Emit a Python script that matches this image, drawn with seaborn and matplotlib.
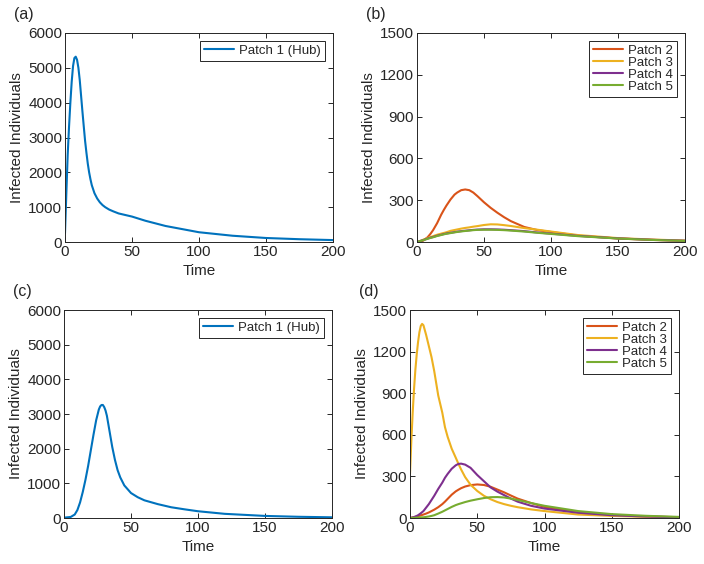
import numpy as np
import pandas as pd
import matplotlib
matplotlib.use("Agg")
import matplotlib.pyplot as plt
import seaborn as sns

# ---------------- data ----------------
t_a = [0, 1, 2, 3, 4, 5, 6, 7, 8, 9, 10, 11, 12, 13, 14, 15, 16, 17, 18, 19, 20,
       22, 24, 26, 28, 30, 33, 36, 40, 45, 50, 60, 75, 100, 125, 150, 175, 200]
hub_a = [250, 1400, 2500, 3300, 4000, 4600, 5050, 5280, 5320, 5230, 5000, 4650, 4200,
         3750, 3320, 2900, 2560, 2250, 2000, 1800, 1630, 1400, 1250, 1140, 1060, 1000,
         930, 880, 820, 775, 730, 610, 460, 280, 180, 115, 80, 55]

t_b = [0, 3, 5, 8, 10, 12, 15, 18, 20, 22, 25, 28, 30, 33, 36, 39, 42, 45, 50, 55, 60,
       65, 70, 80, 90, 100, 120, 150, 175, 200]
p2_b = [0, 2, 12, 35, 58, 85, 135, 195, 230, 262, 305, 340, 355, 372, 377, 372, 355, 330,
        285, 245, 210, 178, 150, 108, 85, 72, 46, 25, 15, 8]
p3_b = [0, 10, 18, 29, 35, 42, 52, 60, 65, 70, 80, 86, 90, 96, 101, 105, 110, 114, 122,
        127, 126, 121, 115, 100, 88, 75, 50, 28, 18, 10]
p4_b = [0, 9, 15, 25, 31, 36, 45, 52, 57, 61, 66, 71, 74, 78, 81, 84, 87, 89, 91, 91, 90,
        88, 85, 78, 68, 60, 44, 26, 16, 9]
p5_b = [0, 8, 14, 23, 29, 34, 43, 50, 55, 59, 64, 69, 72, 76, 79, 82, 85, 87, 88, 88, 87,
        85, 82, 75, 66, 58, 42, 25, 15, 8]

t_c = [0, 5, 8, 10, 12, 14, 16, 18, 20, 22, 24, 26, 27, 28, 29, 30, 31, 32, 34, 36, 38,
       40, 42, 45, 50, 55, 60, 70, 80, 90, 100, 120, 150, 175, 200]
hub_c = [10, 30, 100, 230, 450, 750, 1100, 1500, 1950, 2400, 2820, 3130, 3220, 3260, 3260,
         3200, 3100, 2950, 2500, 2050, 1680, 1380, 1170, 940, 720, 600, 510, 400, 310, 250,
         195, 120, 60, 35, 20]

t_d = [0, 1, 2, 3, 4, 5, 6, 7, 8, 9, 10, 12, 14, 16, 18, 21, 24, 26, 28, 31, 34, 36, 38,
       41, 45, 50, 55, 60, 65, 70, 75, 80, 90, 100, 125, 150, 175, 200]
p3_d = [320, 560, 760, 930, 1070, 1180, 1270, 1340, 1385, 1400, 1390, 1320, 1240, 1160,
        1060, 883, 760, 655, 585, 500, 435, 391, 350, 295, 240, 195, 160, 135, 115, 100,
        88, 78, 62, 50, 25, 15, 9, 5]
p2_d = [0, 2, 4, 6, 8, 10, 13, 16, 19, 22, 25, 32, 40, 50, 60, 78, 100, 118, 138, 168,
        192, 204, 215, 227, 237, 242, 238, 225, 205, 185, 162, 140, 108, 80, 40, 20, 11, 6]
p4_d = [0, 2, 4, 7, 11, 15, 20, 27, 34, 42, 50, 75, 100, 130, 160, 210, 255, 290, 318,
        355, 380, 390, 392, 385, 362, 310, 265, 220, 190, 165, 140, 118, 88, 68, 38, 20, 11, 5]
p5_d = [0, 0, 1, 1, 2, 3, 3, 4, 4, 5, 5, 8, 11, 15, 20, 32, 45, 55, 65, 80, 93, 100, 106,
        115, 125, 135, 144, 150, 151, 148, 140, 130, 108, 88, 50, 28, 16, 8]

# ---------------- style ----------------
sns.set_theme(style="ticks")
plt.rcParams["font.family"] = ["Liberation Sans", "DejaVu Sans"]
plt.rcParams.update({
    "axes.edgecolor": "#262626",
    "axes.linewidth": 0.7,
    "xtick.color": "#262626",
    "ytick.color": "#262626",
    "xtick.direction": "in",
    "ytick.direction": "in",
    "xtick.major.size": 3.5,
    "ytick.major.size": 3.5,
    "xtick.major.width": 0.7,
    "ytick.major.width": 0.7,
    "xtick.top": True,
    "ytick.right": True,
})

BLUE = "#0072BD"
RED = "#D95319"
YEL = "#EDB120"
PUR = "#7E2F8E"
GRN = "#77AC30"

fig = plt.figure(figsize=(7.04, 5.64), dpi=100)
W, H = 704.0, 564.0


def make_ax(l, r, t, b):
    return fig.add_axes([l / W, 1 - b / H, (r - l) / W, (b - t) / H])


ax_a = make_ax(65, 333, 33, 242)
ax_b = make_ax(417, 685, 33, 242)
ax_c = make_ax(64, 332, 310, 518)
ax_d = make_ax(410, 679, 310, 518)


def draw(ax, t, series, ymax, ystep, tag):
    for label, vals, col in series:
        df = pd.DataFrame({"Time": t, "I": vals})
        sns.lineplot(data=df, x="Time", y="I", ax=ax, color=col, linewidth=1.5,
                     label=label, estimator=None, sort=False)
    ax.set_xlim(0, 200)
    ax.set_ylim(0, ymax)
    ax.set_xticks(np.arange(0, 201, 50))
    ax.set_yticks(np.arange(0, ymax + 1, ystep))
    ax.tick_params(labelsize=11, pad=2, colors="#262626")
    ax.set_xlabel("Time", fontsize=11, color="#262626", labelpad=4)
    ax.set_ylabel("Infected Individuals", fontsize=11, color="#262626", labelpad=3)
    for s in ax.spines.values():
        s.set_visible(True)
    leg = ax.legend(loc="upper right", fontsize=9.5, frameon=True, fancybox=False,
                    edgecolor="#262626", framealpha=1, handlelength=2.3,
                    labelspacing=-0.02, borderpad=0.3, handletextpad=0.4,
                    borderaxespad=0.6)
    leg.get_frame().set_linewidth(0.7)
    for txt in leg.get_texts():
        txt.set_color("#262626")
    ax.text(-0.19, 1.09, tag, transform=ax.transAxes, fontsize=11.5, color="#262626",
            va="center", ha="left")


draw(ax_a, t_a, [("Patch 1 (Hub)", hub_a, BLUE)], 6000, 1000, "(a)")
draw(ax_b, t_b, [("Patch 2", p2_b, RED), ("Patch 3", p3_b, YEL),
                 ("Patch 4", p4_b, PUR), ("Patch 5", p5_b, GRN)], 1500, 300, "(b)")
draw(ax_c, t_c, [("Patch 1 (Hub)", hub_c, BLUE)], 6000, 1000, "(c)")
draw(ax_d, t_d, [("Patch 2", p2_d, RED), ("Patch 3", p3_d, YEL),
                 ("Patch 4", p4_d, PUR), ("Patch 5", p5_d, GRN)], 1500, 300, "(d)")

fig.savefig("out.png", dpi=100)
